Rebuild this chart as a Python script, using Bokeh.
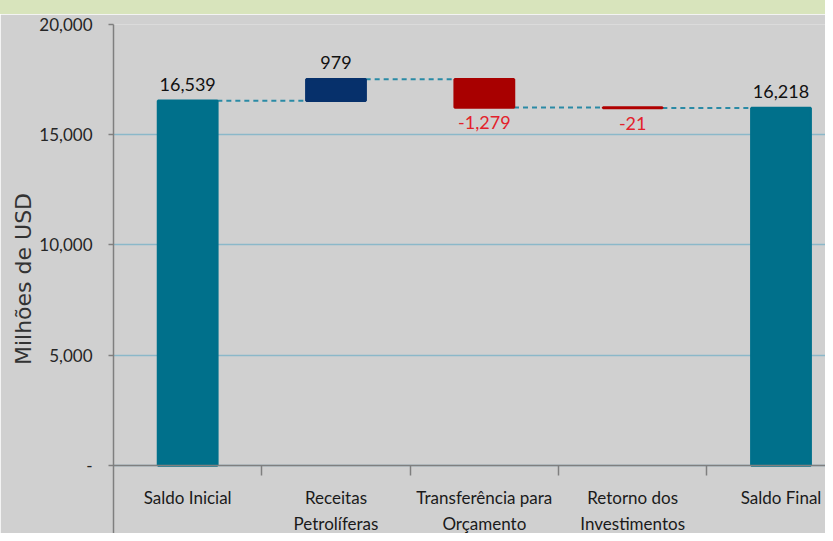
from bokeh.plotting import figure
from bokeh.models import Range1d, FixedTicker, NumeralTickFormatter, ColumnDataSource, Div
from bokeh.layouts import column
from bokeh.core.properties import value
from bokeh.embed import file_html
from bokeh.resources import INLINE

# ---- data ----
categories = ["Saldo Inicial", "Receitas\nPetrolíferas", "Transferência para\nOrçamento",
              "Retorno dos\nInvestimentos", "Saldo Final"]
values = [16539, 979, -1279, -21, 16218]
kinds = ["total", "delta", "delta", "delta", "total"]
bar_colors = ["#00708B", "#06306B", "#A80000", "#B00000", "#00708B"]
y_ticks = [0, 5000, 10000, 15000, 20000]

# ---- waterfall geometry from data ----
xs = [i + 0.5 for i in range(len(categories))]
bottoms, tops, levels = [], [], []
running = 0
for v, k in zip(values, kinds):
    if k == "total":
        b, t = 0, v
        running = v
    else:
        b, t = running, running + v
        running += v
    bottoms.append(min(b, t))
    tops.append(max(b, t))
    levels.append(running)

W = 0.4
conn_x0 = [xs[i] + W / 2 for i in range(len(xs) - 1)]
conn_x1 = [xs[i + 1] - W / 2 for i in range(len(xs) - 1)]
conn_y = levels[:-1]

lab_y = [t if v > 0 else b for v, b, t in zip(values, bottoms, tops)]
lab_txt = [f"{v:,}" for v in values]
lab_col = ["#111111" if v > 0 else "#E3212B" for v in values]
lab_base = ["bottom" if v > 0 else "top" for v in values]
lab_off = [-10 if v > 0 else 9 for v in values]

line1 = [c.split("\n")[0] for c in categories]
line2 = [c.split("\n")[1] if "\n" in c else "" for c in categories]

BG = "#D0D0D0"
p = figure(width=825, height=519, output_backend="svg", toolbar_location=None,
           x_range=Range1d(0, 4.80), y_range=Range1d(-3084, 20000),
           min_border_left=113, min_border_right=0, min_border_top=10, min_border_bottom=0,
           background_fill_color=BG, border_fill_color=BG, margin=0)
p.outline_line_color = None

# grid
p.xgrid.visible = False
p.ygrid.grid_line_color = "#8BB8C9"
p.ygrid.grid_line_width = 1.5

# y axis
p.yaxis.ticker = FixedTicker(ticks=y_ticks)
p.yaxis.formatter = NumeralTickFormatter(format="0,0")
p.yaxis.major_label_overrides = {0: "-"}
p.yaxis.axis_line_color = "#7F7F7F"
p.yaxis.axis_line_width = 1.5
p.yaxis.major_tick_line_color = "#7F7F7F"
p.yaxis.major_tick_line_width = 1.5
p.yaxis.major_tick_out = 5
p.yaxis.major_tick_in = 0
p.yaxis.major_label_standoff = 16
p.yaxis.major_label_text_font = "Lato"
p.yaxis.major_label_text_font_size = "17px"
p.yaxis.major_label_text_color = "#262626"
p.yaxis.axis_label = "Milhões de USD"
p.yaxis.axis_label_text_font = "DejaVu Sans"
p.yaxis.axis_label_text_font_size = "22px"
p.yaxis.axis_label_text_font_style = "normal"
p.yaxis.axis_label_text_color = "#333333"
p.yaxis.axis_label_standoff = 0

# x axis at zero (labels drawn as text below)
p.xaxis.ticker = FixedTicker(ticks=xs, minor_ticks=[1, 2, 3, 4])
p.xaxis.major_label_text_color = None
p.xaxis.fixed_location = 0
p.xaxis.axis_line_color = "#7F7F7F"
p.xaxis.axis_line_width = 1.5
p.xaxis.major_tick_out = 0
p.xaxis.major_tick_in = 0
p.xaxis.minor_tick_out = 10
p.xaxis.minor_tick_in = 0
p.xaxis.minor_tick_line_color = "#7F7F7F"
p.xaxis.minor_tick_line_width = 1.5

zeros = [0] * len(xs)
p.text(x=xs, y=zeros, text=line1, y_offset=32, text_align="center", text_baseline="middle",
       text_font=value("Lato"), text_font_size="17px", text_color="#1A1A1A")
p.text(x=xs, y=zeros, text=line2, y_offset=58, text_align="center", text_baseline="middle",
       text_font=value("Lato"), text_font_size="17px", text_color="#1A1A1A")

# connectors
p.segment(x0=conn_x0, y0=conn_y, x1=conn_x1, y1=conn_y,
          line_color="#2A8AA5", line_width=2, line_dash="5 4")

# bars
src = ColumnDataSource(dict(x=xs, top=tops, bottom=bottoms, color=bar_colors))
p.vbar(x="x", width=W, top="top", bottom="bottom", source=src,
       fill_color="color", line_color="color", line_width=2.5)

# value labels
lsrc = ColumnDataSource(dict(x=xs, y=lab_y, t=lab_txt, c=lab_col, b=lab_base, o=lab_off))
p.text(x="x", y="y", text="t", text_color="c", text_baseline="b", y_offset="o",
       text_align="center", text_font=value("Lato"), text_font_size="18px", source=lsrc)

band = Div(text="", width=825, height=14, margin=0,
           styles={"background-color": "#D8E4BC"})
layout = column(band, p, spacing=0, margin=0)

open("out.html", "w").write(file_html(layout, INLINE))
